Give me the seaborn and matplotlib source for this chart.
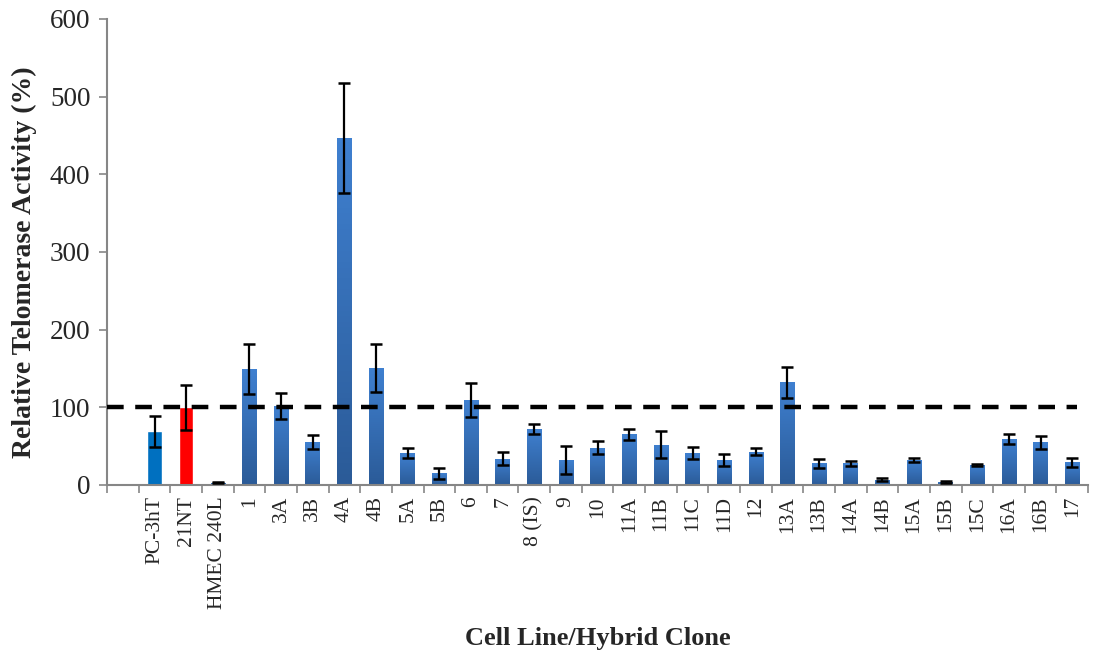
import numpy as np
import pandas as pd
import matplotlib
matplotlib.use('agg')
import matplotlib.pyplot as plt
import seaborn as sns
from matplotlib.colors import LinearSegmentedColormap

clones = ['PC-3hT', '21NT', 'HMEC 240L', '1', '3A', '3B', '4A', '4B', '5A', '5B',
          '6', '7', '8 (IS)', '9', '10', '11A', '11B', '11C', '11D', '12',
          '13A', '13B', '14A', '14B', '15A', '15B', '15C', '16A', '16B', '17']
activity = [69, 100, 3, 149, 102, 55, 447, 151, 41, 15,
            109, 34, 72, 32, 48, 65, 52, 41, 32, 43,
            132, 28, 28, 7, 32, 4, 26, 59, 55, 29]
errors = [20, 29, 1, 32, 17, 9, 71, 31, 6.5, 7,
          22, 8, 6.5, 18, 8, 7, 17, 8, 8, 4,
          20, 6, 3.5, 1.5, 3, 1, 1, 6, 8.5, 6]
reference_level = 100

sns.set_theme(style='white')
plt.rcParams['font.family'] = ['Liberation Serif', 'DejaVu Serif']

df = pd.DataFrame({'clone': clones, 'activity': activity, 'err': errors})
order = [''] + clones  # excel left an empty first slot

colors = {c: '#3A76C4' for c in clones}
colors['PC-3hT'] = '#0070C0'
colors['21NT'] = '#FF0000'

fig = plt.figure(figsize=(10.98, 6.53), dpi=100)
ax = fig.add_axes([0.0975, 0.2573, 0.8935, 0.7137])

sns.barplot(data=df, x='clone', y='activity', order=order, hue='clone',
            palette=colors, legend=False, width=0.46, errorbar=None,
            saturation=1, ax=ax)

# gradient fill on the clone bars
grad = LinearSegmentedColormap.from_list('g', ['#2B5B98', '#3F80D0'])
for p in ax.patches:
    x0, y0 = p.get_x(), p.get_y()
    w, h = p.get_width(), p.get_height()
    if h <= 0:
        continue
    fc = matplotlib.colors.to_hex(p.get_facecolor())
    if fc.lower() != '#3a76c4':
        continue
    img = ax.imshow(np.linspace(0, 1, 64).reshape(-1, 1), cmap=grad,
                    extent=[x0, x0 + w, y0, y0 + h], origin='lower',
                    aspect='auto', zorder=p.get_zorder() + 0.1)
    img.set_clip_path(p)

pos = np.array([order.index(c) for c in clones])
ax.errorbar(pos, activity, yerr=errors, fmt='none', ecolor='black',
            elinewidth=1.6, capsize=4.5, capthick=1.8, zorder=5)

ax.plot([-0.5, len(order) - 0.85], [reference_level, reference_level],
        color='black', lw=3.2, dashes=(3.75, 2.6), zorder=6)

ax.set_xlim(-0.5, len(order) - 0.5)
ax.set_ylim(0, 600)
ax.set_yticks(range(0, 601, 100))
ax.tick_params(axis='y', labelsize=19.5, length=6, width=1.2, color='#868686',
               direction='out', left=True, pad=6)

ax.set_xticks(np.arange(-0.5, len(order)), labels=[])
ax.tick_params(axis='x', which='major', length=6, width=1.2, color='#868686',
               direction='out', bottom=True)
ax.set_xticks(np.arange(1, len(order)), labels=clones, minor=True)
ax.tick_params(axis='x', which='minor', length=0, labelsize=15.5,
               labelrotation=90, pad=8)

for s in ['top', 'right']:
    ax.spines[s].set_visible(False)
for s in ['left', 'bottom']:
    ax.spines[s].set_color('#868686')
    ax.spines[s].set_linewidth(1.5)

ax.set_xlabel('Cell Line/Hybrid Clone', fontsize=19, fontweight='bold')
ax.xaxis.set_label_coords(0.5, -0.305)
ax.set_ylabel('Relative Telomerase Activity (%)', fontsize=20,
              fontweight='bold')
ax.yaxis.set_label_coords(-0.071, 0.477)

fig.savefig('out.png', dpi=100)
